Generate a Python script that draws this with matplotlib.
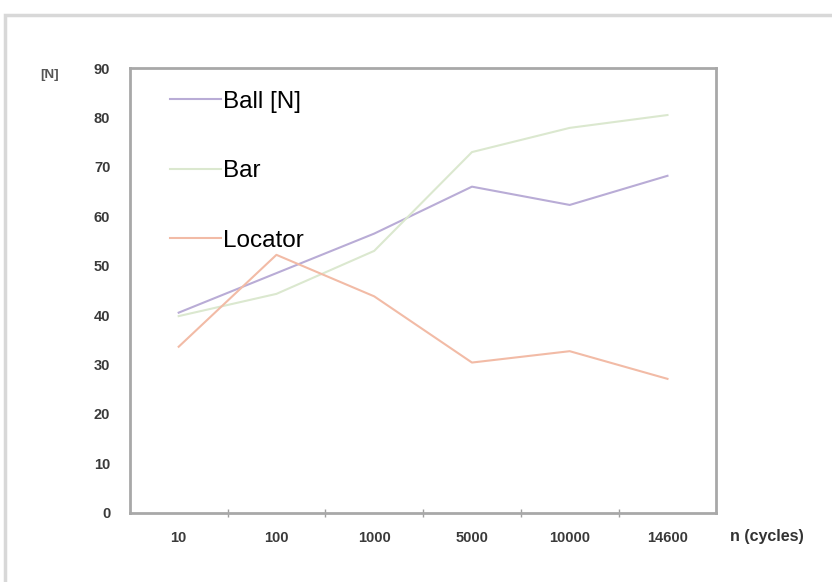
import matplotlib
matplotlib.use("Agg")
import matplotlib.pyplot as plt
from matplotlib.patches import Rectangle
from matplotlib.ticker import FixedLocator

plt.rcParams['font.family'] = ['Liberation Sans', 'DejaVu Sans']

# data
cycles = ['10', '100', '1000', '5000', '10000', '14600']
ball = [40.5, 48.5, 56.5, 66.0, 62.3, 68.2]
bar = [39.8, 44.3, 53.0, 73.0, 77.9, 80.5]
locator = [33.6, 52.2, 43.8, 30.4, 32.7, 27.1]

fig = plt.figure(figsize=(8.32, 5.82), dpi=100)
# faint frame of the scanned page
fig.patches.append(Rectangle((0.006, -0.01), 1.2, 0.985, transform=fig.transFigure,
                             fill=False, edgecolor='#d8d8d8', linewidth=2.5))

ax = fig.add_axes([0.156, 0.119, 0.705, 0.764])
x = range(len(cycles))
ax.plot(x, ball, color='#b9acd6', lw=1.5, label='Ball [N]')
ax.plot(x, bar, color='#dbe8cf', lw=1.5, label='Bar')
ax.plot(x, locator, color='#f2bba6', lw=1.5, label='Locator')

ax.set_xlim(-0.5, len(cycles) - 0.5)
ax.set_ylim(0, 90)
ax.set_yticks(range(0, 91, 10))
ax.set_xticks(list(x))
ax.set_xticklabels(cycles)
ax.xaxis.set_minor_locator(FixedLocator([i + 0.5 for i in range(len(cycles) - 1)]))
ax.tick_params(axis='x', which='major', length=0, pad=13)
ax.tick_params(axis='x', which='minor', length=6, direction='inout', color='#a0a0a0', width=1)
ax.tick_params(axis='y', length=0, pad=14)
for lab in ax.get_xticklabels() + ax.get_yticklabels():
    lab.set_fontsize(10.5)
    lab.set_fontweight('bold')
    lab.set_color('#3a3a3a')
for s in ax.spines.values():
    s.set_color('#a8a8a8')
    s.set_linewidth(2)

ax.legend(loc='upper left', bbox_to_anchor=(0.032, 0.998), frameon=False,
          fontsize=17.5, labelspacing=1.95, handlelength=2.1, handletextpad=0.05)

fig.text(0.06, 0.871, '[N]', fontsize=9.5, fontweight='bold', color='#555555',
         ha='center', va='center')
fig.text(0.922, 0.079, 'n (cycles)', fontsize=11.5, fontweight='bold', color='#333333',
         ha='center', va='center')

fig.savefig('out.png', dpi=100)
